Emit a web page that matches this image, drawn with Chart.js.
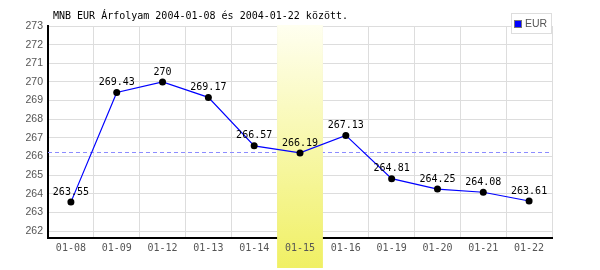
<!DOCTYPE html>
<html>
<head>
<meta charset="utf-8">
<script src="https://cdn.jsdelivr.net/npm/chart.js@4/dist/chart.umd.min.js"></script>
<style>
  html, body { margin: 0; padding: 0; background: #fff; }
  #wrap { width: 600px; height: 270px; position: relative; }
</style>
</head>
<body>
<div id="wrap"><canvas id="rateChart"></canvas></div>
<script>
// chart data
const dates = ['01-08', '01-09', '01-12', '01-13', '01-14', '01-15', '01-16', '01-19', '01-20', '01-21', '01-22'];
const eurRates = [263.55, 269.43, 270, 269.17, 266.57, 266.19, 267.13, 264.81, 264.25, 264.08, 263.61];
const yTicks = [262, 263, 264, 265, 266, 267, 268, 269, 270, 271, 272, 273];
const highlightDate = '01-15';
const seriesName = 'EUR';
const chartTitle = 'MNB EUR Árfolyam 2004-01-08 és 2004-01-22 között.';

const monoFont = '"DejaVu Sans Mono", "Liberation Mono", monospace';

// average of the period (dashed line)
const average = eurRates.reduce((sum, v) => sum + v, 0) / eurRates.length;

const bandRange = (chart) => {
    const x = chart.scales.x;
    const idx = dates.indexOf(highlightDate);
    const half = (x.getPixelForValue(1) - x.getPixelForValue(0)) / 2;
    const center = x.getPixelForValue(idx);
    return [center - half, center + half];
};

const bandGradient = (ctx) => {
    const g = ctx.createLinearGradient(0, 25, 0, 268);
    g.addColorStop(0, '#fffff0');
    g.addColorStop(1, '#f0f064');
    return g;
};

// highlighted day, drawn under the tick label but over grid and axis line
const highlightPlugin = {
    id: 'highlight',
    beforeDraw(chart) {
        const ctx = chart.ctx;
        const [l, r] = bandRange(chart);
        ctx.save();
        ctx.fillStyle = bandGradient(ctx);
        ctx.fillRect(l, 25, r - l, 268 - 25);
        ctx.restore();
    },
    beforeDatasetsDraw(chart) {
        const ctx = chart.ctx;
        const area = chart.chartArea;
        const yPix = chart.scales.y.getPixelForValue(average);

        // average line
        ctx.save();
        ctx.strokeStyle = '#8c8cff';
        ctx.lineWidth = 1;
        ctx.setLineDash([4, 3]);
        ctx.beginPath();
        ctx.moveTo(area.left, Math.round(yPix) + 0.5);
        ctx.lineTo(area.right, Math.round(yPix) + 0.5);
        ctx.stroke();
        ctx.restore();

        const [l, r] = bandRange(chart);
        ctx.save();
        ctx.fillStyle = bandGradient(ctx);
        ctx.fillRect(l, 25, r - l, area.bottom + 2 - 25);
        ctx.restore();
    },
    afterDatasetsDraw(chart) {
        // value labels above the points
        const ctx = chart.ctx;
        const meta = chart.getDatasetMeta(0);
        ctx.save();
        ctx.font = '10px ' + monoFont;
        ctx.fillStyle = '#000';
        ctx.textAlign = 'center';
        ctx.textBaseline = 'middle';
        meta.data.forEach((pt, i) => {
            ctx.fillText(String(eurRates[i]), pt.x, pt.y - 10);
        });
        ctx.restore();
    },
    afterDraw(chart) {
        const ctx = chart.ctx;
        ctx.save();
        // title
        ctx.font = '10px ' + monoFont;
        ctx.fillStyle = '#000';
        ctx.textBaseline = 'middle';
        ctx.textAlign = 'left';
        ctx.fillText(chartTitle, 53, 16);

        // legend box
        const ds = chart.data.datasets[0];
        ctx.fillStyle = '#fff';
        ctx.fillRect(511, 13, 41, 20);
        ctx.strokeStyle = '#dddddd';
        ctx.lineWidth = 1;
        ctx.strokeRect(511.5, 13.5, 40, 20);
        ctx.fillStyle = ds.borderColor;
        ctx.fillRect(515, 21, 6, 6);
        ctx.strokeStyle = '#777';
        ctx.strokeRect(514.5, 20.5, 7, 7);
        ctx.fillStyle = '#555';
        ctx.font = '10.5px "Liberation Sans", Arial, sans-serif';
        ctx.fillText(ds.label, 525, 24);
        ctx.restore();
    }
};

const ctx = document.getElementById('rateChart').getContext('2d');
new Chart(ctx, {
    type: 'line',
    data: {
        labels: dates,
        datasets: [{
            label: seriesName,
            data: eurRates,
            borderColor: '#0000ff',
            borderWidth: 1.2,
            pointRadius: 3.5,
            pointBackgroundColor: '#000',
            pointBorderColor: '#000',
            pointBorderWidth: 0,
            tension: 0,
            clip: false,
        }],
    },
    options: {
        responsive: true,
        maintainAspectRatio: false,
        animation: false,
        events: [],
        layout: {
            padding: { top: 26, right: 48, left: 0, bottom: 0 },
        },
        plugins: {
            legend: { display: false },
            title: { display: false },
            tooltip: { enabled: false },
        },
        scales: {
            x: {
                type: 'category',
                offset: true,
                afterFit: (scale) => { scale.height = 32; },
                border: { color: '#000', width: 2 },
                grid: {
                    color: '#dddddd',
                    offset: true,
                    drawTicks: false,
                },
                ticks: {
                    color: '#555',
                    padding: 4,
                    maxRotation: 0,
                    autoSkip: false,
                    font: { family: monoFont, size: 10 },
                },
            },
            y: {
                min: 261.625,
                max: 273,
                afterFit: (scale) => { scale.width = 48; },
                afterBuildTicks: (scale) => {
                    scale.ticks = yTicks.map((v) => ({ value: v }));
                },
                border: { color: '#000', width: 2 },
                grid: {
                    color: '#dddddd',
                    drawTicks: false,
                },
                ticks: {
                    color: '#555',
                    padding: 5,
                    font: { family: '"Liberation Sans", Arial, sans-serif', size: 10.5 },
                    callback: (v) => String(v),
                },
            },
        },
    },
    plugins: [highlightPlugin],
});
</script>
</body>
</html>
